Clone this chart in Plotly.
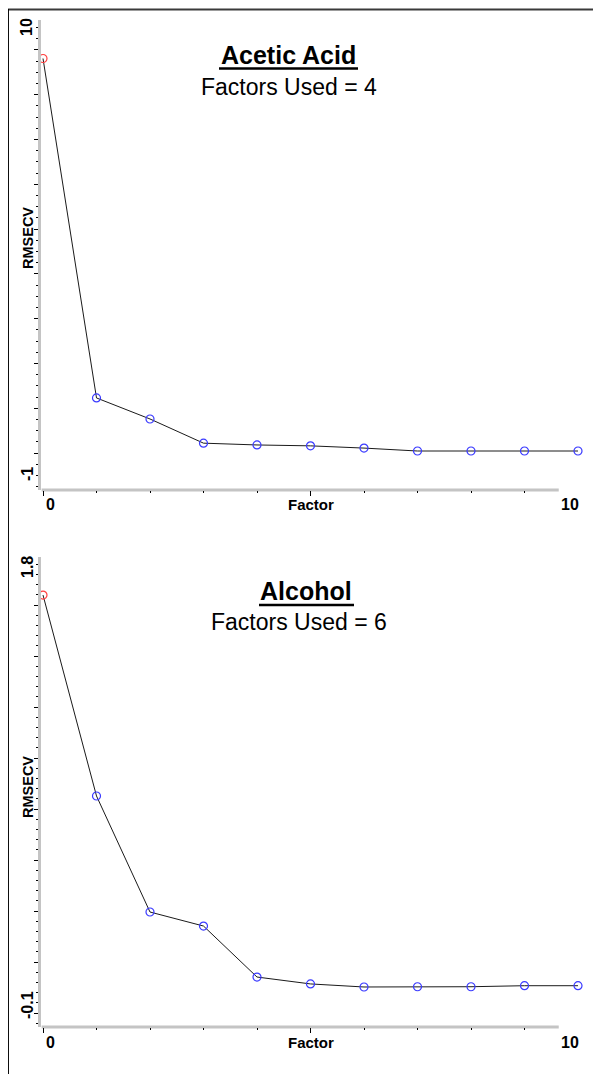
import plotly.graph_objects as go

# ---------------- data ----------------
factors = [0, 1, 2, 3, 4, 5, 6, 7, 8, 9, 10]
acetic_rmsecv = [8.81, 1.23, 0.76, 0.22, 0.18, 0.16, 0.11, 0.045, 0.045, 0.045, 0.045]
alcohol_rmsecv = [1.639, 0.851, 0.396, 0.341, 0.141, 0.114, 0.102, 0.103, 0.103, 0.107, 0.107]
titles = ["Acetic Acid", "Alcohol"]
subtitles = ["Factors Used = 4", "Factors Used = 6"]
y_end_labels = [("10", "-1"), ("1.8", "-0.1")]
x_end_labels = ("0", "10")
x_title = "Factor"
y_title = "RMSECV"

# the page body has an 8px margin, so the figure is 8px smaller and
# every screen pixel position below is shifted by 8
OFF = 8
W, H = 601 - OFF, 1074 - OFF
FONT = "Liberation Sans, Arial, sans-serif"


def px(p):
    return (p - OFF) / W


def py(p):
    return 1 - (p - OFF) / H


fig = go.Figure()

marker_colors = ["#ff4040"] + ["#3a3aff"] * 10

series = [acetic_rmsecv, alcohol_rmsecv]
for i, vals in enumerate(series):
    fig.add_trace(go.Scatter(
        x=factors, y=vals, mode="lines+markers",
        line=dict(color="#1a1a1a", width=1),
        marker=dict(symbol="circle-open", size=8, color=marker_colors,
                    line=dict(width=1.2)),
        cliponaxis=False, showlegend=False,
        xaxis="x" if i == 0 else "x2", yaxis="y" if i == 0 else "y2",
    ))

# pixel geometry of each panel (screen pixels)
x0_px, x_per = 43.0, 53.5
xdom = [41.4, 580.0]
xrange_ = [(xdom[0] - x0_px) / x_per, (xdom[1] - x0_px) / x_per]
panels = [
    dict(top=20, bottom=490, rng=[-37 / 44.8, 9 + 30 / 44.8], dtick=1, minor=0.25,
         title_x=288, title_y=55, sub_x=289, sub_y=87, ul=(219, 358), ul_y=68.5,
         rms_y=238, lab_top=27, lab_bot=474),
    dict(top=557, bottom=1027, rng=[-14 / 255, 1.6 + 48 / 255], dtick=0.2, minor=0.04,
         title_x=306, title_y=591, sub_x=299, sub_y=622, ul=(259, 354), ul_y=605,
         rms_y=787, lab_top=567, lab_bot=1005),
]

layout = dict(
    width=W, height=H, margin=dict(l=0, r=0, t=0, b=0),
    paper_bgcolor="white", plot_bgcolor="white",
    font=dict(family=FONT, color="black"),
)
shapes = []
annotations = []


def ann(text, x, y, size, xref="paper", angle=0):
    return dict(text=text, xref=xref, yref="paper", x=x, y=y, showarrow=False,
                xanchor="center", yanchor="middle", textangle=angle,
                font=dict(size=size, family=FONT, color="black"))


for i, p in enumerate(panels):
    xa = "xaxis" if i == 0 else "xaxis2"
    ya = "yaxis" if i == 0 else "yaxis2"
    xr = "x" if i == 0 else "x2"
    yr = "y" if i == 0 else "y2"
    layout[xa] = dict(
        domain=[px(xdom[0]), px(xdom[1])], range=xrange_, anchor=yr,
        showline=False, showgrid=False, zeroline=False, showticklabels=False,
        tickmode="array", tickvals=[0, 5], ticks="outside", ticklen=5,
        tickcolor="black", tickwidth=1,
        minor=dict(tickmode="array", tickvals=[1, 2, 3, 4, 6, 7, 8, 9],
                   ticks="outside", ticklen=2, tickcolor="black", tickwidth=1),
    )
    layout[ya] = dict(
        domain=[py(p["bottom"]), py(p["top"])], range=p["rng"], anchor=xr,
        showline=True, linecolor="#c4c4c4", linewidth=3,
        showgrid=False, zeroline=False, showticklabels=False,
        tick0=0, dtick=p["dtick"], ticks="outside", ticklen=4,
        tickcolor="black", tickwidth=1,
        minor=dict(tick0=0, dtick=p["minor"], ticks="outside", ticklen=2,
                   tickcolor="black", tickwidth=1),
    )
    # gray x axis line (stops short of factor 10, as in the original)
    shapes.append(dict(type="line", xref=xr, yref=f"{yr} domain",
                       x0=xrange_[0], x1=9.64, y0=0, y1=0,
                       line=dict(color="#c4c4c4", width=3), layer="below"))
    # underline of title
    shapes.append(dict(type="line", xref="paper", yref="paper",
                       x0=px(p["ul"][0]), x1=px(p["ul"][1]),
                       y0=py(p["ul_y"]), y1=py(p["ul_y"]),
                       line=dict(color="black", width=2.5)))
    annotations += [
        ann(f"<b>{titles[i]}</b>", px(p["title_x"]), py(p["title_y"]), 25),
        ann(subtitles[i], px(p["sub_x"]), py(p["sub_y"]), 23),
        ann(f"<b>{x_title}</b>", 5, py(p["bottom"] + 15), 15, xref=xr),
        ann(f"<b>{x_end_labels[0]}</b>", px(50), py(p["bottom"] + 15), 16),
        ann(f"<b>{x_end_labels[1]}</b>", px(570), py(p["bottom"] + 15), 16),
        ann(f"<b>{y_title}</b>", px(28), py(p["rms_y"]), 14.5, angle=-90),
        ann(f"<b>{y_end_labels[i][0]}</b>", px(27), py(p["lab_top"]), 16, angle=-90),
        ann(f"<b>{y_end_labels[i][1]}</b>", px(27), py(p["lab_bot"]), 16, angle=-90),
    ]

# frame lines (top and left)
shapes.append(dict(type="line", xref="paper", yref="paper",
                   x0=0, x1=1, y0=py(9.5), y1=py(9.5),
                   line=dict(color="#3a3a3a", width=2)))
shapes.append(dict(type="line", xref="paper", yref="paper",
                   x0=px(8.2), x1=px(8.2), y0=py(9), y1=0,
                   line=dict(color="black", width=1.5)))

layout["shapes"] = shapes
layout["annotations"] = annotations
fig.update_layout(**layout)
fig.write_html("out.html")
